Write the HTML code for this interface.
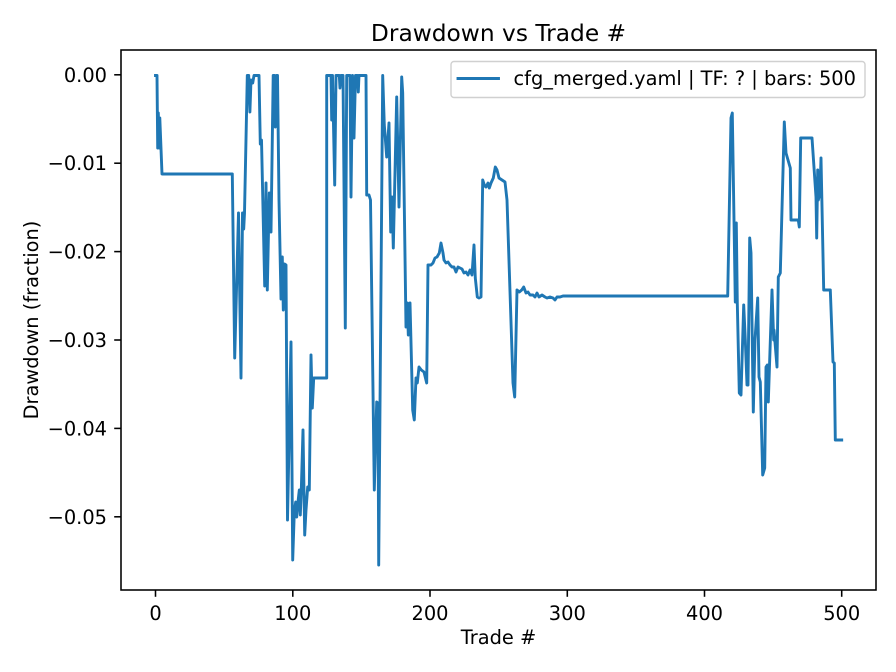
<!DOCTYPE html>
<html><head><meta charset="utf-8"><style>
html,body{margin:0;padding:0;background:#fff;}
svg{display:block;font-family:"DejaVu Sans","Liberation Sans",sans-serif;}
</style></head><body>
<svg width="896" height="672" viewBox="0 0 896 672" xmlns="http://www.w3.org/2000/svg">
<rect width="896" height="672" fill="#fff"/>
<text x="498.5" y="41" font-size="23.3" text-anchor="middle" fill="#000">Drawdown vs Trade #</text>
<polyline fill="none" stroke="#1f77b4" stroke-width="2.9" stroke-linejoin="round" stroke-linecap="square" points="
155.5,75.5 157,75.5 157.7,148 158.3,113 159.3,148 159.8,118 162,174 232.3,174 234.7,358 238.5,213 241,378 242.5,213 243.7,229 244.5,213 247.3,75.5 248.7,75.5 249.9,112 251,80 252.7,83 254,75.5 259,75.5 260.3,144 261.5,140 264.7,286 266,183 267.3,290 269.3,193 271,232 273.2,75.5 274.5,75.5 275.3,127 276.5,75.5 277.5,75.5 279,200 281,299 282.3,257 283.3,310 284.5,264 286,265 287.5,520 291,342 292.7,560 294.3,512 295.7,502 296.7,517 298,502 299.3,490 300.3,515 301.3,490 303,430 304.7,535 306,510 307.7,487 309.3,490 311,355 312.3,408 313.7,378 326.7,378 326.7,75.5 331,75.5 331.7,120 332.5,75.5 334.7,185 336,75.5 339.3,75.5 340,88 341,75.5 343,75.5 345.3,328 346.7,75.5 350,75.5 351,197 352.5,75.5 354,138 355.5,75.5 357.5,75.5 358.3,92 359,75.5 366,75.5 366.7,195 369,195 370.5,200 374.3,490 376.7,402 378,403 378.7,565 382.7,75.5 384.3,125 386.7,157 389,123 390.7,232 392,197 393.3,248 396.7,97 399,207 401.7,77 402.7,93 406,327 407.3,303 408.3,335 410,303 412.7,410 414.3,420 416,378 417.3,383 419,367 421.3,370 424,372 426.7,383 428,265 431,265 433,263 435,258 437,257 439.3,253 441,243 443,253 444,260 446,263 448,262 450,265 452,267 454,267 456,272 458,267 460,268 462,269 464,273 466,272 468,275 470,270 472,275 474,245 475.3,278 477.3,297 479,298 481,297 482.7,180 484.3,185 486,187 488,183 489.3,188 491,183 493.3,178 495.3,167 497,170 499,178 502,180 505,182 507,200 513,383 514.7,397 517,290 519.3,292 521.7,290 523.7,287 526,293 528,292 530,295 533,295 535,297 537,293 539,297 542,295 545,297 547,298 550,297 553,298 555,300 557,297 560,297 563,296 727.7,296 731,118 732.3,113 735.3,302 736.3,223 737.3,303 739.3,393 741,395 743.7,305 745.3,340 747,385 748,385 749.7,238 751,253 753.3,412 755,340 757.7,298 759,377 760.3,382 762.7,475 764.7,468 766,367 767.3,365 768.3,402 772,290 773.7,340 774,330 777,367 778.3,277 780.3,273 784.3,122 786,153 790.3,168 791,220 798.3,220 799.3,227 800.7,138 812,138 816,197 816.7,238 817.7,170 818.3,200 820,193 821,158 823.7,290 830.3,290 833,362 834.3,363 835.3,440 841.7,440"/>
<rect x="121" y="50" width="755" height="540" fill="none" stroke="#000" stroke-width="1.56"/>
<g stroke="#000" stroke-width="1.56">
<line x1="155.5" y1="590" x2="155.5" y2="596.8"/>
<line x1="292.8" y1="590" x2="292.8" y2="596.8"/>
<line x1="430" y1="590" x2="430" y2="596.8"/>
<line x1="567.3" y1="590" x2="567.3" y2="596.8"/>
<line x1="704.5" y1="590" x2="704.5" y2="596.8"/>
<line x1="841.7" y1="590" x2="841.7" y2="596.8"/>
<line x1="114.2" y1="74.8" x2="121" y2="74.8"/>
<line x1="114.2" y1="163.2" x2="121" y2="163.2"/>
<line x1="114.2" y1="251.6" x2="121" y2="251.6"/>
<line x1="114.2" y1="340" x2="121" y2="340"/>
<line x1="114.2" y1="428.4" x2="121" y2="428.4"/>
<line x1="114.2" y1="516.8" x2="121" y2="516.8"/>
</g>
<g font-size="19.4" fill="#000" text-anchor="middle">
<text x="155.5" y="620">0</text>
<text x="292.8" y="620">100</text>
<text x="430" y="620">200</text>
<text x="567.3" y="620">300</text>
<text x="704.5" y="620">400</text>
<text x="841.7" y="620">500</text>
</g>
<g font-size="19.4" fill="#000" text-anchor="end">
<text x="107" y="81.8">0.00</text>
<text x="107" y="170.2">−0.01</text>
<text x="107" y="258.6">−0.02</text>
<text x="107" y="347">−0.03</text>
<text x="107" y="435.4">−0.04</text>
<text x="107" y="523.8">−0.05</text>
</g>
<text x="498.5" y="644" font-size="19.4" text-anchor="middle" fill="#000">Trade #</text>
<text transform="translate(38,320) rotate(-90)" font-size="19.4" text-anchor="middle" fill="#000">Drawdown (fraction)</text>
<rect x="451" y="61.5" width="414" height="36" rx="3" ry="3" fill="#fff" fill-opacity="0.8" stroke="#d0d0d0" stroke-width="1.4"/>
<line x1="458" y1="78.5" x2="498.5" y2="78.5" stroke="#1f77b4" stroke-width="2.9" stroke-linecap="square"/>
<text x="513.5" y="85" font-size="19.4" fill="#000">cfg_merged.yaml | TF: ? | bars: 500</text>
</svg>
</body></html>
